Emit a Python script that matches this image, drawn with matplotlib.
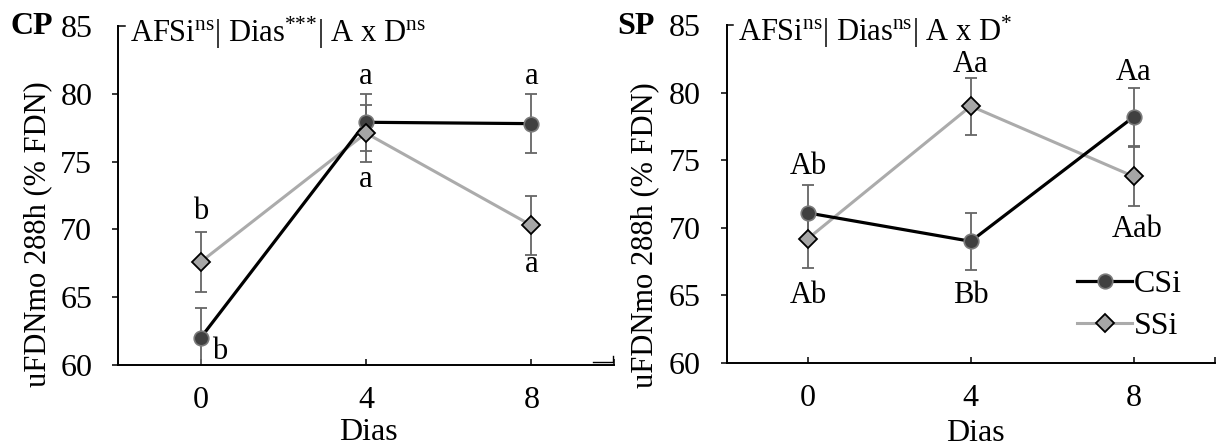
import matplotlib
matplotlib.use("Agg")
import matplotlib.pyplot as plt
from matplotlib.lines import Line2D

plt.rcParams['font.family'] = ['Liberation Serif', 'DejaVu Serif']
plt.rcParams['mathtext.fontset'] = 'custom'
plt.rcParams['mathtext.rm'] = 'Liberation Serif'
plt.rcParams['mathtext.it'] = 'Liberation Serif:italic'
plt.rcParams['mathtext.bf'] = 'Liberation Serif:bold'

dias = [0, 4, 8]

# CP panel
cp_csi = [62.0, 77.9, 77.8]
cp_csi_err = [2.2, 2.1, 2.15]
cp_ssi = [67.6, 77.1, 70.3]
cp_ssi_err = [2.2, 2.1, 2.2]
cp_letters = [(0, 71.3, 'b'), (0.45, 61.0, 'b'), (4, 81.3, 'a'), (4, 73.7, 'a'),
              (8, 81.3, 'a'), (8, 67.4, 'a')]
cp_title = r'AFSi$^{\mathrm{ns}}$| Dias$^{\text{***}}$| A x D$^{\mathrm{ns}}$'

# SP panel
sp_csi = [71.1, 69.0, 78.2]
sp_csi_err = [2.1, 2.1, 2.15]
sp_ssi = [69.2, 79.0, 73.8]
sp_ssi_err = [2.15, 2.1, 2.2]
sp_letters = [(0, 74.5, 'Ab'), (0, 65.0, 'Ab'), (4, 82.1, 'Aa'), (4, 65.0, 'Bb'),
              (8, 81.5, 'Aa'), (8.1, 69.9, 'Aab')]
sp_title = r'AFSi$^{\mathrm{ns}}$| Dias$^{\mathrm{ns}}$| A x D$^{\text{*}}$'

W, H = 1219, 448
fig = plt.figure(figsize=(W / 100, H / 100), dpi=100)

ax1 = fig.add_axes([118 / W, 1 - 365 / H, (614 - 118) / W, (365 - 26) / H])
ax2 = fig.add_axes([726.5 / W, 1 - 363 / H, (1215 - 726.5) / W, (363 - 25) / H])

FS = 23


def draw_panel(ax, csi, csi_err, ssi, ssi_err, letters, title):
    ax.errorbar(dias, csi, yerr=csi_err, fmt='none', ecolor='#666666',
                elinewidth=1.3, capsize=4.5, capthick=1.3, zorder=2)
    ax.errorbar(dias, ssi, yerr=ssi_err, fmt='none', ecolor='#666666',
                elinewidth=1.3, capsize=4.5, capthick=1.3, zorder=2)
    ax.plot(dias, ssi, color='#ABABAB', lw=2.2, zorder=3)
    ax.plot(dias, csi, color='black', lw=2.3, zorder=3.5)
    ax.plot(dias, csi, ls='none', marker='o', ms=10.5, mfc='#404040',
            mec='#7a7a7a', mew=1.2, zorder=4, label='CSi')
    ax.plot(dias, ssi, ls='none', marker='D', ms=9, mfc='#A6A6A6',
            mec='black', mew=1.3, zorder=5, label='SSi')

    for x, y, s in letters:
        ax.text(x, y, s, ha='center', va='center', fontsize=FS - 1)

    ax.set_xlim(-2, 10)
    ax.set_ylim(60, 85)
    ax.set_yticks([60, 65, 70, 75, 80, 85])
    ax.set_xticks([0, 4, 8, 10])
    ax.set_xticklabels(['0', '4', '8', ''])
    ax.spines['top'].set_visible(False)
    ax.spines['right'].set_visible(False)
    for s in ['left', 'bottom']:
        ax.spines[s].set_linewidth(1.4)
    ax.tick_params(axis='y', direction='out', length=4.5, width=1.1,
                   labelsize=FS, pad=14)
    ax.tick_params(axis='x', direction='in', length=4, width=1.1,
                   labelsize=FS, pad=15)
    ax.yaxis.get_major_ticks()[-1].tick1line.set_visible(False)
    # small corner at the top of the y axis
    ax.plot([0, 0.014], [1, 1], transform=ax.transAxes, color='black',
            lw=1.1, clip_on=False)
    ax.text(0.024, 0.952, title, transform=ax.transAxes, ha='left',
            va='baseline', fontsize=FS - 1)


draw_panel(ax1, cp_csi, cp_csi_err, cp_ssi, cp_ssi_err, cp_letters, cp_title)
draw_panel(ax2, sp_csi, sp_csi_err, sp_ssi, sp_ssi_err, sp_letters, sp_title)

ax2.legend(loc='center left', bbox_to_anchor=(6.6, 64.25),
           bbox_transform=ax2.transData, frameon=False, fontsize=FS,
           handlelength=1.75, handletextpad=0.05, labelspacing=0.4,
           borderpad=0, borderaxespad=0,
           handles=[Line2D([], [], color='black', lw=2.3, marker='o', ms=10.5,
                           mfc='#404040', mec='#7a7a7a', mew=1.2),
                    Line2D([], [], color='#ABABAB', lw=2.2, marker='D', ms=9,
                           mfc='#A6A6A6', mec='black', mew=1.3)],
           labels=['CSi', 'SSi'])

# y labels, x labels and panel tags
ylab = 'uFDNmo 288h (% FDN)'
fig.text(38 / W, 1 - 234 / H, ylab, rotation=90, ha='center', va='center',
         fontsize=FS - 1)
fig.text(645 / W, 1 - 235 / H, ylab, rotation=90, ha='center', va='center',
         fontsize=FS - 1)
fig.text(368 / W, 1 - 432 / H, 'Dias', ha='center', va='center', fontsize=FS)
fig.text(975 / W, 1 - 433 / H, 'Dias', ha='center', va='center', fontsize=FS)
fig.text(10 / W, 1 - 26 / H, 'CP', ha='left', va='center', fontsize=FS,
         fontweight='bold')
fig.text(617 / W, 1 - 26 / H, 'SP', ha='left', va='center', fontsize=FS,
         fontweight='bold')

# little box corner between the panels
fig.add_artist(Line2D([593 / W, 613 / W, 613 / W],
                      [1 - 362 / H, 1 - 362 / H, 1 - 356 / H],
                      color='black', lw=1.0))

fig.savefig('out.png', dpi=100)
